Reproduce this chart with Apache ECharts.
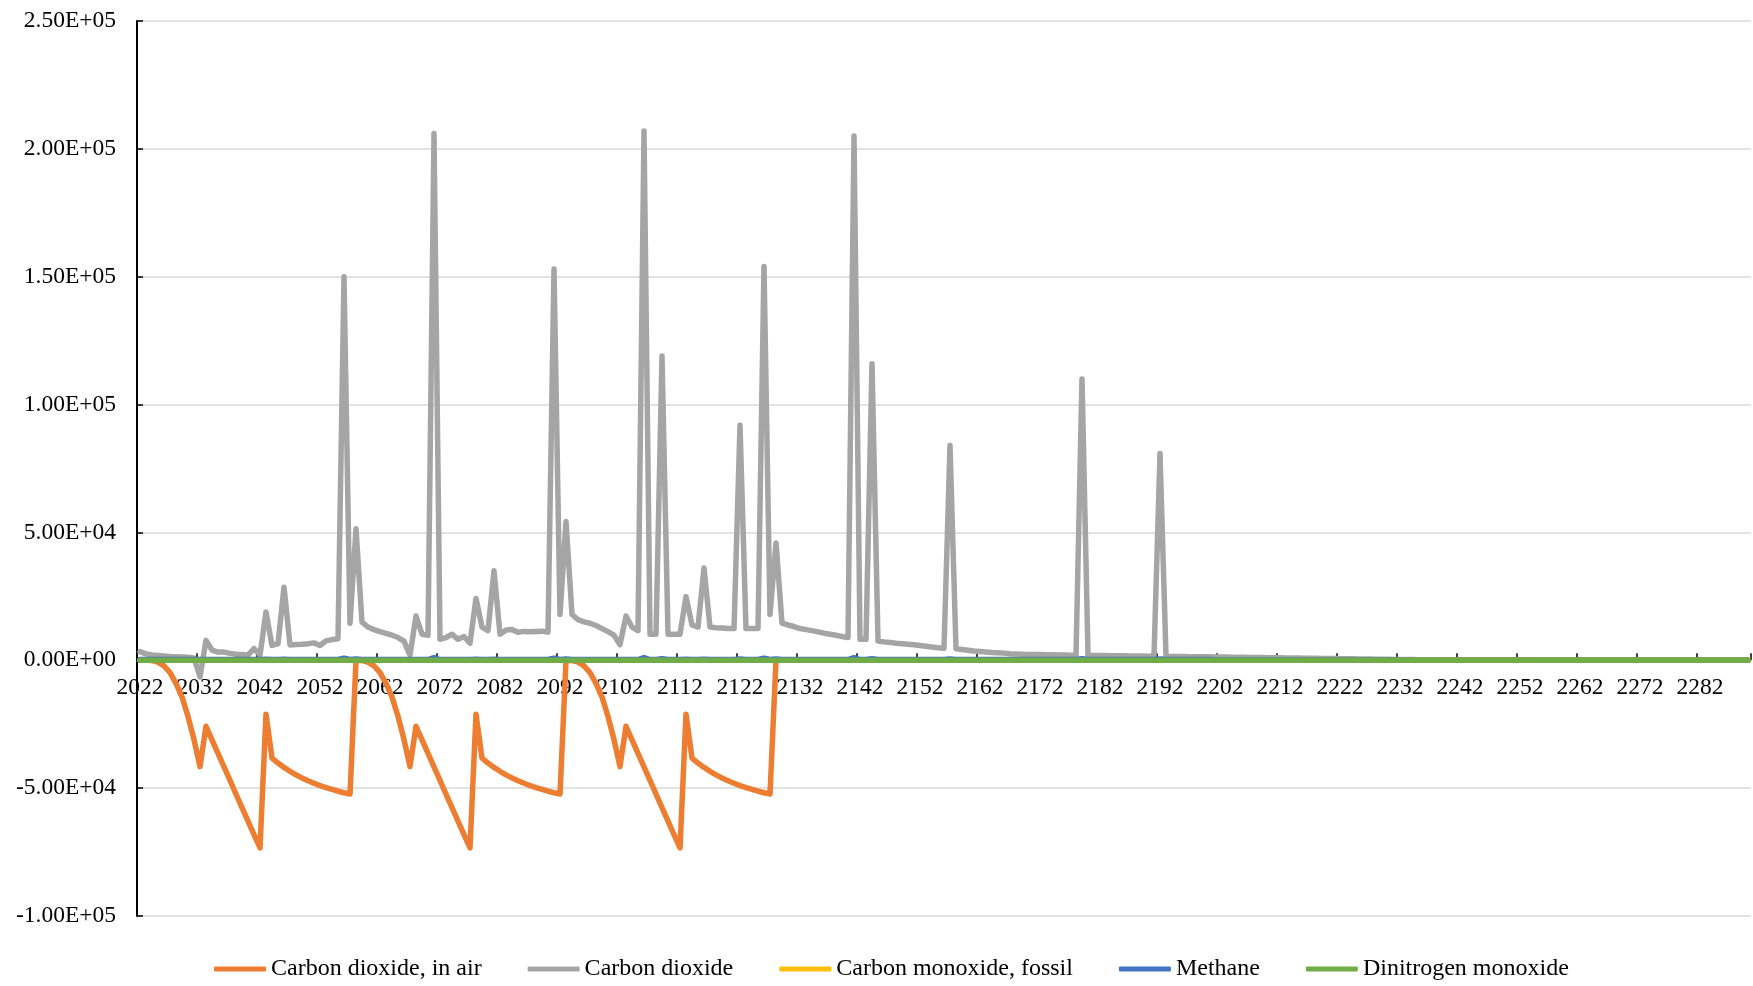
<!DOCTYPE html>
<html>
<head>
<meta charset="utf-8">
<script src="https://cdn.jsdelivr.net/npm/echarts@6/dist/echarts.min.js"></script>
<style>
html,body{margin:0;padding:0;background:#fff;}
#chart{width:1753px;height:986px;}
</style>
</head>
<body>
<div id="chart"></div>
<script>
// Categories: every year from 2022 to 2290
const firstYear = 2022;
const lastYear = 2290;
const years = [];
for (let y = firstYear; y <= lastYear; y++) years.push(String(y));

// Carbon dioxide, in air (rows of 10 years starting at 2022)
const co2InAir = [
  0, 0, -100, -700, -2200, -4800, -9000, -14300, -22000, -31000,
  -41600, -25800, -31100, -36400, -41700, -47000, -52300, -57600, -62900, -68200,
  -73400, -21100, -38300, -40200, -41900, -43400, -44800, -46000, -47100, -48100,
  -49000, -49800, -50500, -51200, -51800, -52300, 0, -100, -700, -2200,
  -4800, -9000, -14300, -22000, -31000, -41600, -25800, -31100, -36400, -41700,
  -47000, -52300, -57600, -62900, -68200, -73400, -21100, -38300, -40200, -41900,
  -43400, -44800, -46000, -47100, -48100, -49000, -49800, -50500, -51200, -51800,
  -52300, 0, -100, -700, -2200, -4800, -9000, -14300, -22000, -31000,
  -41600, -25800, -31100, -36400, -41700, -47000, -52300, -57600, -62900, -68200,
  -73400, -21100, -38300, -40200, -41900, -43400, -44800, -46000, -47100, -48100,
  -49000, -49800, -50500, -51200, -51800, -52300, 0, 0, 0, 0,
  0, 0, 0, 0, 0, 0, 0, 0, 0, 0,
  0, 0, 0, 0, 0, 0, 0, 0, 0, 0,
  0, 0, 0, 0, 0, 0, 0, 0, 0, 0,
  0, 0, 0, 0, 0, 0, 0, 0, 0, 0,
  0, 0, 0, 0, 0, 0, 0, 0, 0, 0,
  0, 0, 0, 0, 0, 0, 0, 0, 0, 0,
  0, 0, 0, 0, 0, 0, 0, 0, 0, 0,
  0, 0, 0, 0, 0, 0, 0, 0, 0, 0,
  0, 0, 0, 0, 0, 0, 0, 0, 0, 0,
  0, 0, 0, 0, 0, 0, 0, 0, 0, 0,
  0, 0, 0, 0, 0, 0, 0, 0, 0, 0,
  0, 0, 0, 0, 0, 0, 0, 0, 0, 0,
  0, 0, 0, 0, 0, 0, 0, 0, 0, 0,
  0, 0, 0, 0, 0, 0, 0, 0, 0, 0,
  0, 0, 0, 0, 0, 0, 0, 0, 0, 0,
  0, 0, 0, 0, 0, 0, 0, 0, 0
];

// Carbon dioxide
const co2 = [
  3400, 2500, 2100, 1900, 1700, 1500, 1400, 1300, 1200, 900,
  -6500, 7800, 4000, 3200, 3200, 2700, 2400, 2300, 2100, 4600,
  2000, 18900, 5800, 6500, 28600, 6000, 6200, 6300, 6500, 6800,
  5800, 7600, 8100, 8400, 150000, 14500, 51400, 14900, 13000, 12000,
  11200, 10500, 9800, 8900, 7500, 2000, 17300, 10200, 9800, 206000,
  8200, 8900, 10200, 8200, 9300, 6700, 24200, 13000, 11600, 35000,
  10200, 11800, 12000, 11000, 11300, 11200, 11300, 11400, 11000, 153000,
  17900, 54300, 17900, 15900, 15000, 14500, 13600, 12400, 11200, 9800,
  6100, 17300, 13000, 11600, 207000, 10200, 10200, 119000, 10200, 10200,
  10200, 24900, 13800, 13000, 36100, 13000, 12700, 12600, 12400, 12400,
  91900, 12400, 12400, 12400, 154000, 17900, 45900, 14500, 13800, 13200,
  12400, 12000, 11600, 11100, 10600, 10200, 9800, 9300, 8900, 205000,
  8200, 8200, 116000, 7500, 7200, 7000, 6700, 6500, 6300, 6100,
  5800, 5500, 5200, 4900, 4700, 84000, 4500, 4200, 3900, 3600,
  3400, 3200, 3000, 2900, 2800, 2600, 2500, 2400, 2300, 2300,
  2300, 2200, 2200, 2100, 2100, 2000, 2000, 110000, 2000, 1900,
  1900, 1900, 1800, 1800, 1800, 1700, 1700, 1700, 1600, 1600,
  80900, 1600, 1500, 1500, 1500, 1400, 1400, 1400, 1400, 1300,
  1300, 1300, 1200, 1200, 1200, 1100, 1100, 1100, 1000, 1000,
  1000, 900, 900, 900, 800, 800, 800, 700, 700, 700,
  600, 600, 600, 500, 500, 500, 400, 400, 400, 300,
  300, 300, 300, 200, 200, 200, 200, 200, 100, 100,
  100, 100, 100, 100, 100, 100, 100, 100, 100, 100,
  100, 100, 100, 100, 0, 0, 0, 0, 0, 0,
  0, 0, 0, 0, 0, 0, 0, 0, 0, 0,
  0, 0, 0, 0, 0, 0, 0, 0, 0, 0,
  0, 0, 0, 0, 0, 0, 0, 0, 0
];

// Carbon monoxide, fossil
const coFossil = [
  0, 0, 0, 0, 0, 0, 0, 0, 0, 0,
  0, 0, 0, 0, 0, 0, 0, 0, 0, 0,
  0, 0, 0, 0, 0, 0, 0, 0, 0, 0,
  0, 0, 0, 0, 0, 0, 0, 0, 0, 0,
  0, 0, 0, 0, 0, 0, 0, 0, 0, 0,
  0, 0, 0, 0, 0, 0, 0, 0, 0, 0,
  0, 0, 0, 0, 0, 0, 0, 0, 0, 0,
  0, 0, 0, 0, 0, 0, 0, 0, 0, 0,
  0, 0, 0, 0, 0, 0, 0, 0, 0, 0,
  0, 0, 0, 0, 0, 0, 0, 0, 0, 0,
  0, 0, 0, 0, 0, 0, 0, 0, 0, 0,
  0, 0, 0, 0, 0, 0, 0, 0, 0, 0,
  0, 0, 0, 0, 0, 0, 0, 0, 0, 0,
  0, 0, 0, 0, 0, 0, 0, 0, 0, 0,
  0, 0, 0, 0, 0, 0, 0, 0, 0, 0,
  0, 0, 0, 0, 0, 0, 0, 0, 0, 0,
  0, 0, 0, 0, 0, 0, 0, 0, 0, 0,
  0, 0, 0, 0, 0, 0, 0, 0, 0, 0,
  0, 0, 0, 0, 0, 0, 0, 0, 0, 0,
  0, 0, 0, 0, 0, 0, 0, 0, 0, 0,
  0, 0, 0, 0, 0, 0, 0, 0, 0, 0,
  0, 0, 0, 0, 0, 0, 0, 0, 0, 0,
  0, 0, 0, 0, 0, 0, 0, 0, 0, 0,
  0, 0, 0, 0, 0, 0, 0, 0, 0, 0,
  0, 0, 0, 0, 0, 0, 0, 0, 0, 0,
  0, 0, 0, 0, 0, 0, 0, 0, 0, 0,
  0, 0, 0, 0, 0, 0, 0, 0, 0
];

// Methane
const methane = [
  300, 300, 300, 300, 300, 300, 300, 300, 300, 300,
  300, 300, 300, 300, 300, 300, 300, 300, 300, 300,
  300, 400, 300, 300, 400, 300, 300, 300, 300, 300,
  300, 300, 300, 300, 800, 300, 500, 300, 300, 300,
  300, 300, 300, 300, 300, 300, 300, 300, 300, 1000,
  300, 300, 300, 300, 300, 300, 400, 300, 300, 400,
  300, 300, 300, 300, 300, 300, 300, 300, 300, 800,
  300, 500, 300, 300, 300, 300, 300, 300, 300, 300,
  300, 300, 300, 300, 1000, 300, 300, 600, 300, 300,
  300, 400, 300, 300, 400, 300, 300, 300, 300, 300,
  500, 300, 300, 300, 800, 300, 500, 300, 300, 300,
  300, 300, 300, 300, 300, 300, 300, 300, 300, 1000,
  300, 300, 600, 300, 300, 300, 300, 300, 300, 300,
  300, 300, 300, 300, 300, 500, 300, 300, 300, 300,
  300, 300, 300, 300, 300, 300, 300, 300, 300, 300,
  300, 300, 300, 300, 300, 300, 300, 600, 300, 300,
  300, 300, 300, 300, 300, 300, 300, 300, 300, 300,
  500, 300, 300, 300, 300, 300, 300, 300, 300, 200,
  200, 200, 200, 200, 200, 200, 200, 200, 200, 200,
  200, 200, 200, 200, 200, 100, 100, 100, 100, 100,
  100, 100, 100, 100, 100, 100, 100, 100, 100, 100,
  0, 0, 0, 0, 0, 0, 0, 0, 0, 0,
  0, 0, 0, 0, 0, 0, 0, 0, 0, 0,
  0, 0, 0, 0, 0, 0, 0, 0, 0, 0,
  0, 0, 0, 0, 0, 0, 0, 0, 0, 0,
  0, 0, 0, 0, 0, 0, 0, 0, 0, 0,
  0, 0, 0, 0, 0, 0, 0, 0, 0
];

// Dinitrogen monoxide
const n2o = [
  0, 0, 0, 0, 0, 0, 0, 0, 0, 0,
  0, 0, 0, 0, 0, 0, 0, 0, 0, 0,
  0, 0, 0, 0, 0, 0, 0, 0, 0, 0,
  0, 0, 0, 0, 0, 0, 0, 0, 0, 0,
  0, 0, 0, 0, 0, 0, 0, 0, 0, 0,
  0, 0, 0, 0, 0, 0, 0, 0, 0, 0,
  0, 0, 0, 0, 0, 0, 0, 0, 0, 0,
  0, 0, 0, 0, 0, 0, 0, 0, 0, 0,
  0, 0, 0, 0, 0, 0, 0, 0, 0, 0,
  0, 0, 0, 0, 0, 0, 0, 0, 0, 0,
  0, 0, 0, 0, 0, 0, 0, 0, 0, 0,
  0, 0, 0, 0, 0, 0, 0, 0, 0, 0,
  0, 0, 0, 0, 0, 0, 0, 0, 0, 0,
  0, 0, 0, 0, 0, 0, 0, 0, 0, 0,
  0, 0, 0, 0, 0, 0, 0, 0, 0, 0,
  0, 0, 0, 0, 0, 0, 0, 0, 0, 0,
  0, 0, 0, 0, 0, 0, 0, 0, 0, 0,
  0, 0, 0, 0, 0, 0, 0, 0, 0, 0,
  0, 0, 0, 0, 0, 0, 0, 0, 0, 0,
  0, 0, 0, 0, 0, 0, 0, 0, 0, 0,
  0, 0, 0, 0, 0, 0, 0, 0, 0, 0,
  0, 0, 0, 0, 0, 0, 0, 0, 0, 0,
  0, 0, 0, 0, 0, 0, 0, 0, 0, 0,
  0, 0, 0, 0, 0, 0, 0, 0, 0, 0,
  0, 0, 0, 0, 0, 0, 0, 0, 0, 0,
  0, 0, 0, 0, 0, 0, 0, 0, 0, 0,
  0, 0, 0, 0, 0, 0, 0, 0, 0
];

const seriesNames = ['Carbon dioxide, in air', 'Carbon dioxide', 'Carbon monoxide, fossil', 'Methane', 'Dinitrogen monoxide'];
const seriesColors = ['#ED7D31', '#A5A5A5', '#FFC000', '#4472C4', '#70AD47'];
const seriesData = [co2InAir, co2, coFossil, methane, n2o];

const yMin = -100000, yMax = 250000, yStep = 50000;
const gridTop = 21, gridBottom = 70, chartH = 986;

function sci(v) {
  if (v === 0) return '0.00E+00';
  const e = Math.floor(Math.log10(Math.abs(v)) + 1e-9);
  const m = (v / Math.pow(10, e)).toFixed(2);
  return m + 'E' + (e < 0 ? '-' : '+') + String(Math.abs(e)).padStart(2, '0');
}

// place the category axis where the value axis crosses zero
const plotH = chartH - gridTop - gridBottom;
const zeroOffset = -plotH * (0 - yMin) / (yMax - yMin);

const FONT = "'Liberation Serif', 'Times New Roman', serif";
const chart = echarts.init(document.getElementById('chart'), null, { renderer: 'canvas' });

chart.setOption({
  animation: false,
  backgroundColor: '#ffffff',
  grid: {
    left: 137, right: 2, top: gridTop, bottom: gridBottom,
    containLabel: false, outerBoundsMode: 'none'
  },
  legend: {
    left: 209, top: 952,
    icon: 'roundRect',
    itemWidth: 52, itemHeight: 5, itemGap: 46,
    textStyle: { fontFamily: FONT, fontSize: 24, color: '#000' },
    data: seriesNames
  },
  xAxis: {
    type: 'category',
    data: years,
    boundaryGap: true,
    position: 'bottom',
    offset: zeroOffset,
    axisLine: { onZero: false, lineStyle: { color: '#bfbfbf', width: 1 } },
    axisTick: { show: true, inside: true, length: 7, interval: 9, lineStyle: { color: '#000', width: 1.5 } },
    axisLabel: { interval: 9, margin: 16, fontFamily: FONT, fontSize: 23.5, color: '#000' },
    splitLine: { show: false }
  },
  yAxis: {
    type: 'value',
    min: yMin, max: yMax, interval: yStep,
    axisLine: { show: true, lineStyle: { color: '#000', width: 2 } },
    axisTick: { show: true, inside: true, length: 6, lineStyle: { color: '#000', width: 1.5 } },
    axisLabel: { margin: 21, fontFamily: FONT, fontSize: 23.5, color: '#000', formatter: sci },
    splitLine: { show: true, lineStyle: { color: '#d9d9d9', width: 1.5 } }
  },
  series: seriesNames.map((name, i) => ({
    name: name,
    type: 'line',
    data: seriesData[i],
    symbol: 'none',
    smooth: false,
    color: seriesColors[i],
    lineStyle: { color: seriesColors[i], width: 5.5, cap: 'round', join: 'round' },
    z: 2 + i
  }))
});
</script>
</body>
</html>
